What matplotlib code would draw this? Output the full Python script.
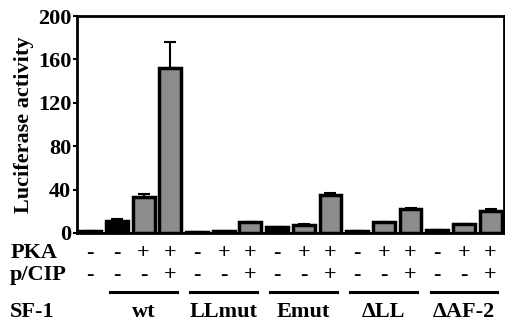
import matplotlib.pyplot as plt
import matplotlib.transforms as mtransforms

plt.rcParams['font.family'] = ['Liberation Serif', 'DejaVu Serif']
plt.rcParams['font.weight'] = 'bold'

# bar values (luciferase activity) and upper error
values = [1.5, 11, 33, 152, 1, 2, 10, 5, 7, 35, 2, 10, 22, 3, 8, 20]
errors = [0, 1.5, 3, 24, 0, 0, 0.5, 0, 1.5, 1.5, 0, 0.5, 1, 0, 0.5, 2]
pka = ['-', '-', '+', '+', '-', '+', '+', '-', '+', '+', '-', '+', '+', '-', '+', '+']
pcip = ['-', '-', '-', '+', '-', '-', '+', '-', '-', '+', '-', '-', '+', '-', '-', '+']
groups = ['wt', 'LLmut', 'Emut', '\u0394LL', '\u0394AF-2']
group_start = [1, 4, 7, 10, 13]

colors = ['black' if p == '-' else '#8c8c8c' for p in pka]

fig = plt.figure(figsize=(5.06, 3.23), dpi=100)
ax = fig.add_axes([0.152, 0.279, 0.844, 0.671])

x = list(range(len(values)))
ax.bar(x, values, width=0.82, color=colors, edgecolor='black', linewidth=2.5,
       yerr=[[0] * len(errors), errors], error_kw=dict(ecolor='black', elinewidth=1.5, capsize=4, capthick=1.5))

ax.set_xlim(-0.5, 15.5)
ax.set_ylim(0, 200)
ax.set_yticks([0, 40, 80, 120, 160, 200])
ax.tick_params(axis='y', labelsize=16, width=1.5, length=3, pad=1)
ax.set_xticks([])
for s in ax.spines.values():
    s.set_linewidth(2)
ax.set_ylabel('Luciferase activity', fontsize=16, fontweight='bold', labelpad=3)

fs = 16
trans = mtransforms.blended_transform_factory(ax.transData, ax.transAxes)
for i in x:
    ax.text(i, -0.092, pka[i], transform=trans, ha='center', va='center', fontsize=fs)
    ax.text(i, -0.194, pcip[i], transform=trans, ha='center', va='center', fontsize=fs)

for g, s in zip(groups, group_start):
    ax.plot([s - 0.25, s + 2.25], [-0.272, -0.272], transform=trans, color='black', lw=2.2, clip_on=False)
    ax.text(s + 1, -0.364, g, transform=trans, ha='center', va='center', fontsize=fs)

fig.text(0.02, 1 - 253 / 323, 'PKA', ha='left', va='center', fontsize=fs)
fig.text(0.02, 1 - 275 / 323, 'p/CIP', ha='left', va='center', fontsize=fs)
fig.text(0.02, 1 - 312 / 323, 'SF-1', ha='left', va='center', fontsize=fs)

fig.savefig('out.png', dpi=100)
